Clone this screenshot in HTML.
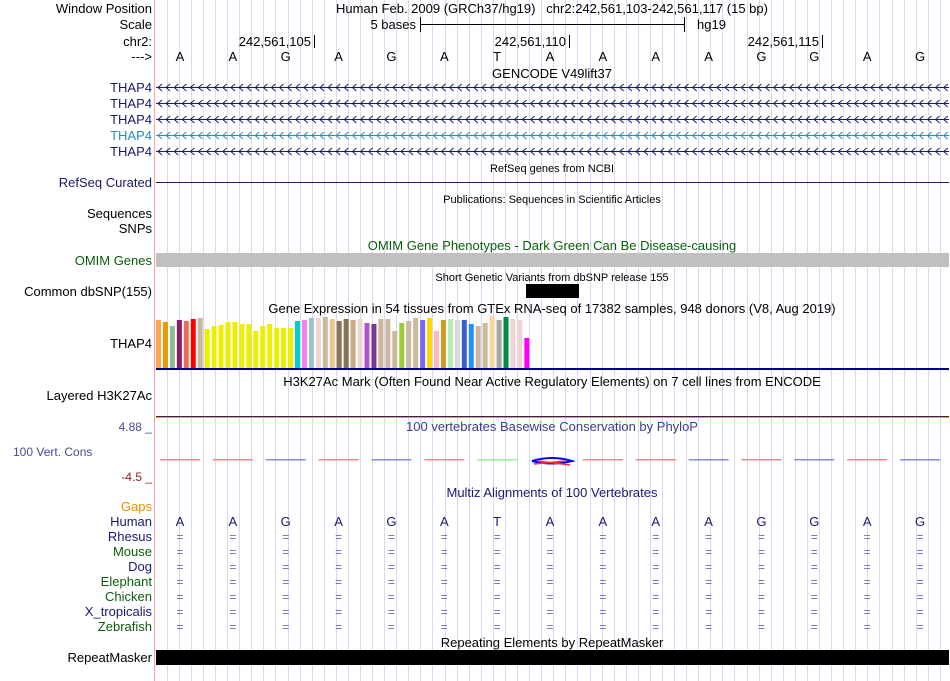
<!DOCTYPE html>
<html><head><meta charset="utf-8"><style>
html,body{margin:0;padding:0;background:#fff}
svg{display:block;font-family:"Liberation Sans",sans-serif}
</style></head><body>
<svg width="950" height="681" viewBox="0 0 950 681" xmlns="http://www.w3.org/2000/svg">
<g id="grid" stroke="#d8d8f4" stroke-width="1"></g>
<line x1="154.5" y1="0" x2="154.5" y2="681" stroke="#f4a4a4"/>
<g font-size="13" fill="#000">
<text x="152" y="13" text-anchor="end">Window Position</text>
<text x="552" y="13" text-anchor="middle" xml:space="preserve">Human Feb. 2009 (GRCh37/hg19)   chr2:242,561,103-242,561,117 (15 bp)</text>
<text x="152" y="29" text-anchor="end">Scale</text>
<text x="416" y="29" text-anchor="end">5 bases</text>
<line x1="420" y1="24.5" x2="684" y2="24.5" stroke="#000"/>
<line x1="420.5" y1="17" x2="420.5" y2="32" stroke="#000"/>
<line x1="684.5" y1="17" x2="684.5" y2="32" stroke="#000"/>
<text x="697" y="29">hg19</text>
<text x="152" y="46" text-anchor="end">chr2:</text>
<text x="311" y="46" text-anchor="end">242,561,105</text><line x1="314.5" y1="35" x2="314.5" y2="48" stroke="#000"/>
<text x="566" y="46" text-anchor="end">242,561,110</text><line x1="569.5" y1="35" x2="569.5" y2="48" stroke="#000"/>
<text x="819" y="46" text-anchor="end">242,561,115</text><line x1="822.5" y1="35" x2="822.5" y2="48" stroke="#000"/>
<text x="152" y="61" text-anchor="end">---&gt;</text>
<g id="bases" text-anchor="middle"></g>
<text x="552" y="78" text-anchor="middle">GENCODE V49lift37</text>
</g>
<g id="genes" font-size="13" text-anchor="end"></g>
<g font-size="11" text-anchor="middle"><text x="552" y="172">RefSeq genes from NCBI</text><text x="552" y="203">Publications: Sequences in Scientific Articles</text><text x="552" y="281">Short Genetic Variants from dbSNP release 155</text></g>
<text x="152" y="187" font-size="13" text-anchor="end" fill="#191970">RefSeq Curated</text>
<line x1="156" y1="182.5" x2="949" y2="182.5" stroke="#191970"/>
<text x="152" y="218" font-size="13" text-anchor="end">Sequences</text>
<text x="152" y="233" font-size="13" text-anchor="end">SNPs</text>
<text x="552" y="250" font-size="13" text-anchor="middle" fill="#0b5d0b">OMIM Gene Phenotypes - Dark Green Can Be Disease-causing</text>
<rect x="156" y="253" width="793" height="14" fill="#c0c0c0"/>
<text x="152" y="265" font-size="13" text-anchor="end" fill="#0b5d0b">OMIM Genes</text>
<rect x="526" y="284" width="53" height="14" fill="#000"/>
<text x="152" y="296" font-size="13" text-anchor="end">Common dbSNP(155)</text>
<text x="552" y="313" font-size="13" text-anchor="middle">Gene Expression in 54 tissues from GTEx RNA-seq of 17382 samples, 948 donors (V8, Aug 2019)</text>
<g id="gtex"></g>
<text x="152" y="348" font-size="13" text-anchor="end">THAP4</text>
<rect x="156" y="368" width="793" height="2" fill="#000080"/>
<text x="552" y="386" font-size="13" text-anchor="middle">H3K27Ac Mark (Often Found Near Active Regulatory Elements) on 7 cell lines from ENCODE</text>
<text x="152" y="400" font-size="13" text-anchor="end">Layered H3K27Ac</text>
<rect x="156" y="416" width="793" height="1" fill="#3a2a30"/>
<rect x="156" y="417" width="793" height="1" fill="#e8a030"/>
<text x="152" y="431" font-size="12" text-anchor="end" fill="#4a4a9a">4.88 _</text>
<text x="552" y="431" font-size="13" text-anchor="middle" fill="#3c3c8c">100 vertebrates Basewise Conservation by PhyloP</text>
<text x="13" y="456" font-size="12" fill="#4a4a9a">100 Vert. Cons</text>
<text x="152" y="481" font-size="12" text-anchor="end" fill="#8b2323">-4.5 _</text>
<g id="cons"></g>
<path d="M532 461 Q552 455 572 461 Q552 466 532 461" fill="none" stroke="#0000ff" stroke-width="2"/>
<path d="M534 464 L566 461 M538 461 L570 465" stroke="#ff3030" stroke-width="1.5"/>
<text x="552" y="497" font-size="13" text-anchor="middle" fill="#191970">Multiz Alignments of 100 Vertebrates</text>
<g font-size="13" text-anchor="end">
<text x="152" y="511" fill="#f08c00">Gaps</text>
<text x="152" y="526" fill="#191970">Human</text>
<text x="152" y="541" fill="#191970">Rhesus</text>
<text x="152" y="556" fill="#0b5d0b">Mouse</text>
<text x="152" y="571" fill="#191970">Dog</text>
<text x="152" y="586" fill="#0b5d0b">Elephant</text>
<text x="152" y="601" fill="#0b5d0b">Chicken</text>
<text x="152" y="616" fill="#191970">X_tropicalis</text>
<text x="152" y="631" fill="#0b5d0b">Zebrafish</text>
</g>
<g id="multiz" text-anchor="middle"></g>
<text x="552" y="647" font-size="13" text-anchor="middle">Repeating Elements by RepeatMasker</text>
<rect x="156" y="650" width="793" height="15" fill="#000"/>
<text x="152" y="662" font-size="13" text-anchor="end">RepeatMasker</text>
</svg>
<script>
const NS="http://www.w3.org/2000/svg";
function el(p,t,a,txt){const e=document.createElementNS(NS,t);for(const k in a)e.setAttribute(k,a[k]);if(txt!=null)e.textContent=txt;p.appendChild(e);return e;}
const grid=document.getElementById('grid');
for(let x=166.7;x<950;x+=12.08){el(grid,'line',{x1:Math.round(x)+.5,y1:0,x2:Math.round(x)+.5,y2:681});}
const seq="AAGAGATAAAAGGAG";
const bx=i=>180+i*52.86;
const bases=document.getElementById('bases'), mz=document.getElementById('multiz');
for(let i=0;i<15;i++){el(bases,'text',{x:bx(i),y:61},seq[i]);
 el(mz,'text',{x:bx(i),y:526,'font-size':13,fill:'#191970'},seq[i]);
 for(let r=0;r<7;r++)el(mz,'text',{x:bx(i),y:541+15*r,'font-size':12,fill:'#6a6ab0'},'=');}
const genes=document.getElementById('genes');
const gc=['#191970','#191970','#191970','#2a8ac4','#191970'];
for(let r=0;r<5;r++){const y=87+16*r;
 el(genes,'text',{x:152,y:y+5,fill:gc[r]},'THAP4');
 el(genes,'line',{x1:156,y1:y+.5,x2:949,y2:y+.5,stroke:gc[r]});
 let d='';for(let x=158;x<948;x+=8.1){d+=`M${x+4} ${y-3} L${x} ${y+.5} L${x+4} ${y+4} `;}
 el(genes,'path',{d:d,stroke:gc[r],fill:'none','stroke-width':1});}
const cols=['#FFA54F','#EE9A00','#8FBC8F','#8B1C62','#EE6A50','#FF0000','#CDB79E'].concat(Array(13).fill('#EEEE00')).concat(['#00CDCD','#EE82EE','#9AC0CD','#EED5D2','#CDB79E','#EEC591','#8B7355','#8B7355','#CDAA7D','#EED5D2','#B452CD','#7A378B','#CDB79E','#CDB79E','#CDB79E','#9ACD32','#CDB79E','#7A67EE','#FFD700','#FFB6C1','#CD9B1D','#B4EEB4','#D9D9D9','#3A5FCD','#1E90FF','#CDB79E','#CDB79E','#FFD39B','#A6A6A6','#008B45','#EED5D2','#EED5D2','#FF00FF']);
cols.splice(36,0,'#CDB79E');
const tops=[320,322,326,320,321,319,318,329,326,325,322,322,324,324,331,326,324,328,328,328,321,320,318,318,317,319,321,319,320,319,323,324,319,319,331,323,321,318,320,318,331,320,319,320,320,324,326,323,316,320,317,319,320,338];
const g=document.getElementById('gtex');
for(let i=0;i<54;i++){el(g,'rect',{x:156+i*6.95,y:tops[i],width:5,height:368-tops[i],fill:cols[i]});}
const cons=document.getElementById('cons');
const cc=['#e88','#e88','#88e','#e88','#88e','#e88','#9e9',null,'#e88','#e88','#88e','#e88','#88e','#e88','#88e'];
for(let i=0;i<15;i++){if(!cc[i])continue;el(cons,'rect',{x:bx(i)-20,y:459,width:40,height:1.5,fill:cc[i]});}
</script>
</body></html>
